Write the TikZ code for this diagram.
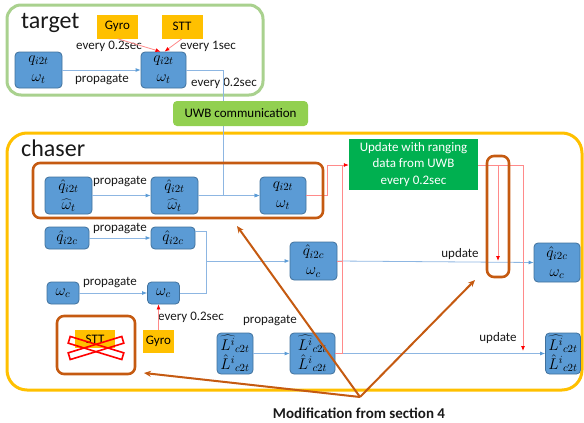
\documentclass[tikz,border=0pt]{standalone}
\usepackage{fix-cm}
\usepackage{fontspec}
\setmainfont{Carlito}
\usetikzlibrary{arrows.meta}
\definecolor{boxblue}{HTML}{5B9BD5}
\definecolor{boxedge}{HTML}{41719C}
\definecolor{gyroc}{HTML}{FFC000}
\definecolor{tgtframe}{HTML}{A9D18E}
\definecolor{uwbfill}{HTML}{92D050}
\definecolor{updfill}{HTML}{00B050}
\definecolor{brownc}{HTML}{C55A11}
\definecolor{bline}{HTML}{8DB6E2}
\definecolor{rline}{HTML}{FF8A8A}
\begin{document}
\begin{tikzpicture}[x=1pt,y=-1pt,font=\fontsize{13}{15}\selectfont,
  bx/.style={rectangle,rounded corners=4pt,fill=boxblue,draw=boxedge,line width=0.8pt,inner sep=0pt,align=center,font=\fontsize{15.5}{19}\selectfont},
  sens/.style={rectangle,fill=gyroc,inner sep=0pt,font=\fontsize{13}{15}\selectfont},
  lbl/.style={inner sep=0pt,text=black!90},
  barr/.style={draw=bline,line width=0.8pt,-{Latex[length=5pt,width=4pt,color=boxblue]}},
  bln/.style={draw=bline,line width=0.8pt},
  rarr/.style={draw=rline,line width=0.8pt,-{Latex[length=5pt,width=4pt,color=red]}},
  rln/.style={draw=rline,line width=0.8pt},
  brw/.style={draw=brownc,line width=2pt,-{Stealth[length=7pt,width=6pt]}},
  hl/.style={draw=brownc,line width=2.6pt,rounded corners=7pt}]
\useasboundingbox (0,0) rectangle (584,423);

% frames
\draw[tgtframe,line width=3pt,rounded corners=14pt] (7,5) rectangle (263,95);
\node[lbl,anchor=west,font=\fontsize{24}{26}\selectfont] (ttl) at (21,23) {target};
\draw[gyroc,line width=3pt,rounded corners=20pt] (7,133) rectangle (582,390);
\node[lbl,anchor=west,font=\fontsize{24}{26}\selectfont] (ctl) at (21,148) {chaser};

% coordinates for routing
\coordinate (v1) at (223,0);
\coordinate (v2) at (206,0);
\coordinate (v3) at (342,0);
\coordinate (v4) at (327,0);
\coordinate (v5) at (498,0);
\coordinate (v6) at (523,0);
\coordinate (h1) at (0,165);

% target nodes
\node[bx,minimum width=47pt,minimum height=36pt] (A) at (38.5,70) {$q_{i2t}$\\$\omega_t$};
\node[bx,minimum width=45pt,minimum height=36pt] (B) at (163.5,70) {$q_{i2t}$\\$\omega_t$};
\node[sens,minimum width=41pt,minimum height=24pt] (GT) at (117.5,26.5) {Gyro};
\node[sens,minimum width=41pt,minimum height=24pt] (ST) at (182,26.5) {STT};
\node[lbl] (l1) at (102,80) {propagate};
\node[lbl] (l2) at (109,46) {every 0.2sec};
\node[lbl] (l3) at (208,46) {every 1sec};
\node[lbl] (l4) at (224,83) {every 0.2sec};

% chaser row 1
\node[bx,minimum width=47pt,minimum height=37pt] (C1) at (68.5,195.5) {$\hat{q}_{i2t}$\\$\widehat{\omega}_t$};
\node[bx,minimum width=47pt,minimum height=37pt] (C2) at (174.5,195.5) {$\hat{q}_{i2t}$\\$\widehat{\omega}_t$};
\node[bx,minimum width=46pt,minimum height=37pt] (C3) at (283,195.5) {$q_{i2t}$\\$\omega_t$};
\node[lbl] (l5) at (120,182) {propagate};

% row 2
\node[bx,minimum width=44pt,minimum height=22pt] (D1) at (67,238) {$\hat{q}_{i2c}$};
\node[bx,minimum width=44pt,minimum height=22pt] (D2) at (173,238) {$\hat{q}_{i2c}$};
\node[lbl] (l6) at (120,229) {propagate};
\node[bx,minimum width=47pt,minimum height=38pt] (E) at (313.5,261) {$\hat{q}_{i2c}$\\$\omega_c$};
\node[bx,minimum width=46pt,minimum height=39pt] (H1) at (557,262.5) {$\hat{q}_{i2c}$\\$\omega_c$};
\node[lbl] (l7) at (460,254) {update};

% row 3
\node[bx,minimum width=32pt,minimum height=22pt] (F1) at (63,293) {$\omega_c$};
\node[bx,minimum width=32pt,minimum height=22pt] (F2) at (163.5,293) {$\omega_c$};
\node[lbl] (l8) at (110,283) {propagate};
\node[sens,minimum width=31pt,minimum height=23pt] (GC) at (158.5,341.5) {Gyro};
\node[lbl] (l9) at (191,317) {every 0.2sec};

% crossed STT
\node[sens,minimum width=40pt,minimum height=18pt] (SC) at (95,339) {STT};
\node[draw=red,line width=1.6pt,minimum width=56pt,minimum height=7pt,inner sep=0pt,rotate=17] (x1) at (96,348) {};
\node[draw=red,line width=1.6pt,minimum width=56pt,minimum height=7pt,inner sep=0pt,rotate=-17] (x2) at (96,348) {};
\draw[hl] (57,316) rectangle (135,374);

% row 4
\node[bx,minimum width=36pt,minimum height=41pt] (G1) at (235,353.5) {$\widehat{L^{i}}{}_{c2t}$\\$\hat{L}^{i}{}_{c2t}$};
\node[bx,minimum width=45pt,minimum height=41pt] (G2) at (312.5,353.5) {$\widehat{L^{i}}{}_{c2t}$\\$\hat{L}^{i}{}_{c2t}$};
\node[bx,minimum width=35pt,minimum height=41pt] (H2) at (563,353.5) {$\widehat{L^{i}}{}_{c2t}$\\$\hat{L}^{i}{}_{c2t}$};
\node[lbl] (l10) at (270,321) {propagate};
\node[lbl] (l11) at (498,338) {update};

% UWB and update
\draw[bln] (B.east) -| (v1 |- 0,101);
\draw[barr] (223,126) |- (C3.west);
\node[rectangle,rounded corners=4pt,fill=uwbfill,minimum width=135pt,minimum height=25pt,inner sep=0pt] (UWB) at (240.5,113.5) {UWB communication};
\node[rectangle,fill=updfill,text=white,minimum width=129pt,minimum height=51pt,inner sep=0pt,align=center,font=\fontsize{13}{16.5}\selectfont] (UPD) at (413.5,164.5) {Update with ranging\\data from UWB\\every 0.2sec};

% blue connectors
\draw[barr] (A.east) -- (B.west);
\draw[barr] (C1.east) -- (C2.west);
\draw[barr] (C2.east) -- (C3.west);
\draw[barr] (D1.east) -- (D2.west);
\draw[bln] (D2.east |- 0,231) -| (v2 |- 0,261);
\draw[barr] (F2.east) -| (v2 |- 0,261) -- (E.west);
\draw[barr] (F1.east) -- (F2.west);
\draw[barr] (G1.east) -- (G2.west);
\draw[barr] (E.east) -- (H1.west);
\draw[barr] (G2.east) -- (H2.west);

% red connectors
\draw[rarr] (GT.south) -- ([xshift=-3pt]B.north);
\draw[rarr] (ST.south) -- ([xshift=1pt]B.north);
\draw[rarr] (GC.north) -- (F2.south -| GC.north);
\draw[rarr] (C3.east) -| (v4 |- h1) -- (UPD.west |- h1);
\draw[rln] (G2.east) -| (v3 |- h1);
\draw[rln] (E.east) -- (v3 |- E.east);
\draw[rarr] (UPD.east |- h1) -| (v5 |- 0,261);
\draw[rarr] (UPD.east |- h1) -| (v6 |- 0,351);

% highlights
\draw[hl] (33,163) rectangle (323,218);
\draw[hl] (487,156) rectangle (509,277);

% modification arrows
\coordinate (m) at (360,397);
\coordinate (t1) at (237,226);
\coordinate (t2) at (475,280);
\coordinate (t3) at (144,373);
\draw[brw] (m) -- (t1);
\draw[brw] (m) -- (t2);
\draw[brw] (m) -- (t3);
\node[lbl,font=\bfseries\fontsize{15}{17}\selectfont] (mod) at (359,413) {Modification from section 4};
\end{tikzpicture}
\end{document}
